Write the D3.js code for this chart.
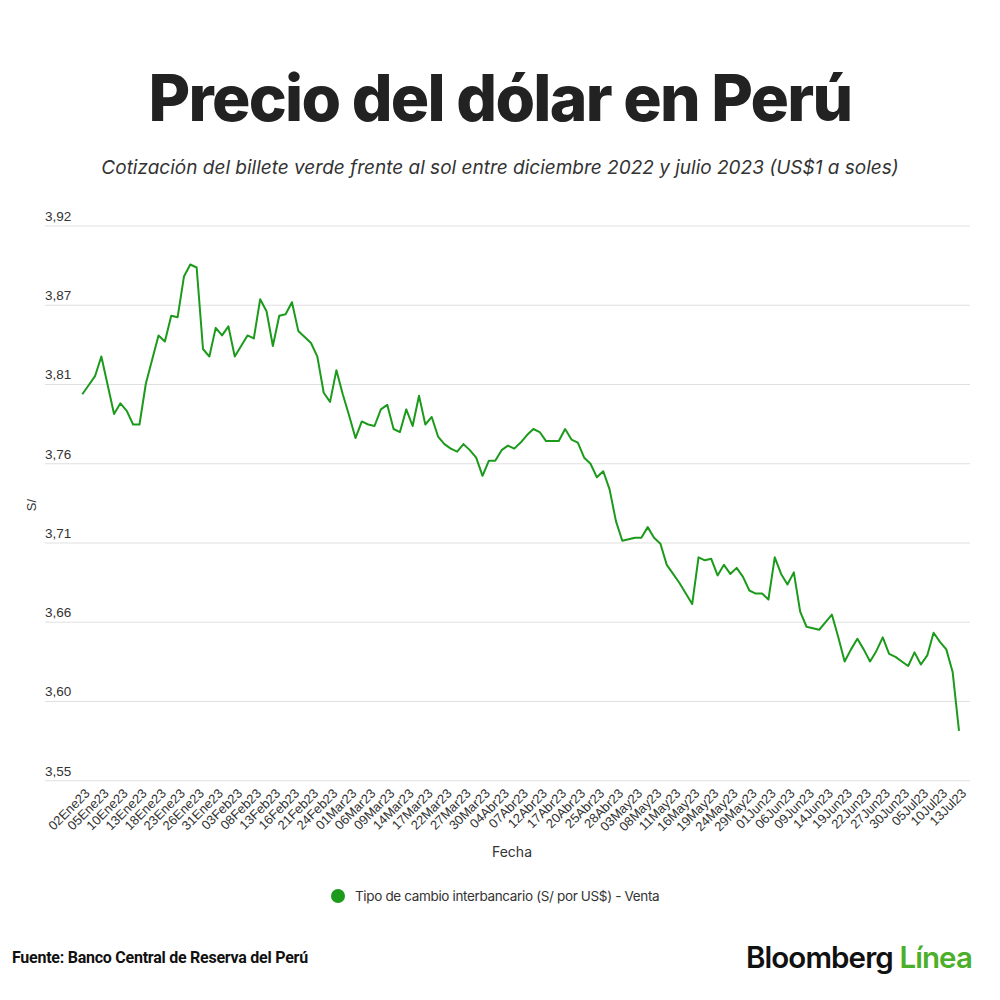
<!DOCTYPE html>
<html>
<head>
<meta charset="utf-8">
<script src="https://cdn.jsdelivr.net/npm/d3@7"></script>
<style>
  html, body { margin: 0; padding: 0; background: #fff; }
  svg { display: block; }
</style>
</head>
<body>
<script>
// ---- data ----
const monthNames = ["Ene","Feb","Mar","Abr","May","Jun","Jul"];
// business days from 02 Jan 2023 to 13 Jul 2023
const categories = (function () {
  const out = [];
  const d = new Date(2023, 0, 2);
  const end = new Date(2023, 6, 13);
  while (d <= end) {
    const wd = d.getDay();
    if (wd !== 0 && wd !== 6) {
      out.push(String(d.getDate()).padStart(2, "0") + monthNames[d.getMonth()] + "23");
    }
    d.setDate(d.getDate() + 1);
  }
  return out;
})();

const venta = [
  3.806, 3.812, 3.818, 3.831, 3.812, 3.793, 3.800, 3.795, 3.786, 3.786,
  3.813, 3.829, 3.845, 3.841, 3.858, 3.857, 3.884, 3.892, 3.890, 3.836,
  3.831, 3.850, 3.845, 3.851, 3.831, 3.838, 3.845, 3.843, 3.869, 3.861,
  3.838, 3.858, 3.859, 3.867, 3.848, 3.844, 3.840, 3.831, 3.807, 3.801,
  3.822, 3.806, 3.792, 3.777, 3.788, 3.786, 3.785, 3.796, 3.799, 3.783,
  3.781, 3.796, 3.785, 3.805, 3.786, 3.791, 3.778, 3.773, 3.770, 3.768,
  3.773, 3.769, 3.764, 3.752, 3.762, 3.762, 3.769, 3.772, 3.770, 3.774,
  3.779, 3.783, 3.781, 3.775, 3.775, 3.775, 3.783, 3.776, 3.774, 3.764,
  3.760, 3.751, 3.755, 3.743, 3.722, 3.709, 3.710, 3.711, 3.711, 3.718,
  3.711, 3.707, 3.693, 3.687, 3.681, 3.674, 3.667, 3.698, 3.696, 3.697,
  3.686, 3.693, 3.687, 3.691, 3.685, 3.676, 3.674, 3.674, 3.670, 3.698,
  3.687, 3.680, 3.688, 3.662, 3.652, 3.651, 3.650, 3.655, 3.660, 3.645,
  3.629, 3.637, 3.644, 3.637, 3.629, 3.636, 3.645, 3.634, 3.632, 3.629,
  3.626, 3.635, 3.627, 3.633, 3.648, 3.642, 3.637, 3.622, 3.583
];

const yTickValues = [3.55, 3.6025, 3.655, 3.7075, 3.76, 3.8125, 3.865, 3.9175];
const yTickLabels = ["3,55", "3,60", "3,66", "3,71", "3,76", "3,81", "3,87", "3,92"];

const titleText = "Precio del dólar en Perú";
const subtitleText = "Cotización del billete verde frente al sol entre diciembre 2022 y julio 2023 (US$1 a soles)";
const seriesName = "Tipo de cambio interbancario (S/ por US$) - Venta";
const sourceText = "Fuente: Banco Central de Reserva del Perú";

// ---- drawing ----
const W = 1000, H = 1000;
const svg = d3.select("body").append("svg").attr("width", W).attr("height", H);

const green = "#1c9a1c";
const axisFont = "'Liberation Sans', Arial, sans-serif";
const uiFont = "Inter, 'Noto Sans', sans-serif";

// Title
svg.append("text")
  .attr("x", 500).attr("y", 121)
  .attr("text-anchor", "middle")
  .attr("font-family", uiFont)
  .attr("font-weight", 800)
  .attr("font-size", 64)
  .attr("letter-spacing", -1.7)
  .attr("fill", "#222")
  .text(titleText);

svg.append("text")
  .attr("x", 500).attr("y", 174)
  .attr("text-anchor", "middle")
  .attr("font-family", uiFont)
  .attr("font-style", "italic")
  .attr("font-size", 19)
  .attr("letter-spacing", 0)
  .attr("fill", "#333")
  .text(subtitleText);

const x = d3.scalePoint().domain(categories).range([82.3, 959]);
const y = d3.scaleLinear().domain([3.55, 3.9175]).range([780.7, 226]);

// grid + y labels
const gridG = svg.append("g");
gridG.selectAll("line").data(yTickValues).join("line")
  .attr("x1", 45).attr("x2", 970)
  .attr("y1", d => y(d)).attr("y2", d => y(d))
  .attr("stroke", "#e0e0e0").attr("stroke-width", 1);
gridG.selectAll("text").data(yTickValues).join("text")
  .attr("x", 45).attr("y", d => y(d) - 5)
  .attr("font-family", axisFont).attr("font-size", 13.5)
  .attr("fill", "#333")
  .text((d, i) => yTickLabels[i]);

// y axis title
svg.append("text")
  .attr("transform", "translate(36,505) rotate(-90)")
  .attr("text-anchor", "middle")
  .attr("font-family", axisFont).attr("font-size", 13)
  .attr("fill", "#333")
  .text("S/");

// x tick labels (every 3rd business day)
const xTicks = categories.filter((c, i) => i % 3 === 0);
svg.append("g").selectAll("text").data(xTicks).join("text")
  .attr("transform", d => `translate(${x(d) + 5},${791}) rotate(-45)`)
  .attr("text-anchor", "end")
  .attr("dy", "0.35em")
  .attr("font-family", axisFont).attr("font-size", 13)
  .attr("fill", "#333")
  .text(d => d);

svg.append("text")
  .attr("x", 512).attr("y", 857)
  .attr("text-anchor", "middle")
  .attr("font-family", uiFont).attr("font-size", 14)
  .attr("fill", "#333")
  .text("Fecha");

// line
const line = d3.line()
  .x((d, i) => x(categories[i]))
  .y(d => y(d));
svg.append("path")
  .datum(venta)
  .attr("d", line)
  .attr("fill", "none")
  .attr("stroke", green)
  .attr("stroke-width", 2)
  .attr("stroke-linejoin", "round");

// legend
svg.append("circle").attr("cx", 338).attr("cy", 896).attr("r", 7).attr("fill", green);
svg.append("text")
  .attr("x", 355).attr("y", 901)
  .attr("font-family", uiFont).attr("font-size", 13.5)
  .attr("letter-spacing", -0.35)
  .attr("fill", "#333")
  .text(seriesName);

// footer
svg.append("text")
  .attr("x", 12).attr("y", 963)
  .attr("font-family", "'Roboto', 'Liberation Sans Narrow', sans-serif")
  .attr("font-weight", 700).attr("font-size", 16)
  .attr("letter-spacing", -0.25)
  .attr("fill", "#111")
  .text(sourceText);

const brand = svg.append("text")
  .attr("x", 972).attr("y", 968)
  .attr("text-anchor", "end")
  .attr("font-family", uiFont).attr("font-weight", 600).attr("font-size", 29.5)
  .attr("letter-spacing", -0.9);
brand.append("tspan").attr("fill", "#111").text("Bloomberg ");
brand.append("tspan").attr("fill", "#4caf2a").text("Línea");
</script>
</body>
</html>
